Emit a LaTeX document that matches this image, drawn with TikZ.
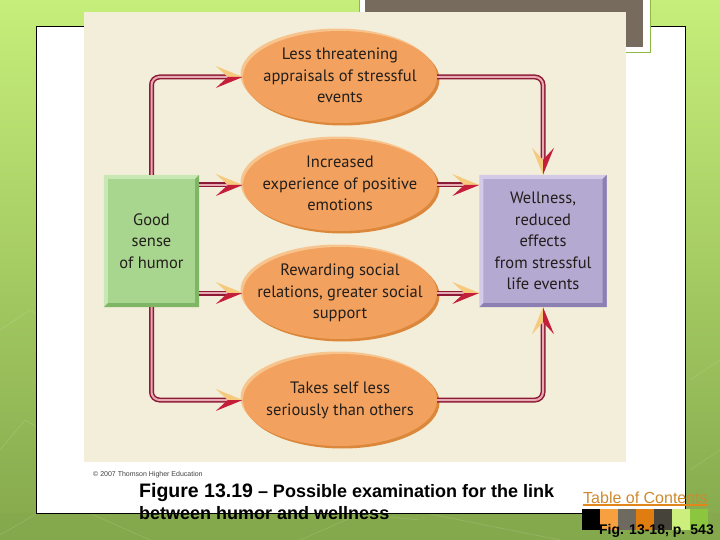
\documentclass[tikz,border=0pt]{standalone}
\usepackage{fontspec}
\setmainfont{Liberation Sans}
\newfontfamily\figfont{PT Sans}
\usetikzlibrary{shapes.geometric}
\definecolor{bgtop}{HTML}{C6EE7A}
\definecolor{bgmid}{HTML}{A8D25E}
\definecolor{bgbot}{HTML}{84A84C}
\definecolor{creme}{HTML}{F3EED9}
\definecolor{slate}{HTML}{766B5D}
\definecolor{framegreen}{HTML}{8DBA45}
\definecolor{bubblefill}{HTML}{F2A25E}
\definecolor{bubblelight}{HTML}{F8C48E}
\definecolor{bubbledark}{HTML}{DC883C}
\definecolor{humorgreen}{HTML}{A9D68F}
\definecolor{humorlight}{HTML}{C8E7B4}
\definecolor{humordark}{HTML}{7EB666}
\definecolor{wellpurple}{HTML}{B4A9D0}
\definecolor{welllight}{HTML}{D2CAE6}
\definecolor{welldark}{HTML}{8C80B2}
\definecolor{pipered}{HTML}{8E1B36}
\definecolor{pipepink}{HTML}{E7A9B2}
\definecolor{tipred}{HTML}{C41E3A}
\definecolor{tipyellow}{HTML}{F6C97C}
\definecolor{ink}{HTML}{231E1C}
\definecolor{tocorange}{HTML}{CF8A30}
\definecolor{tocline}{HTML}{E0861A}
\definecolor{swA}{HTML}{F7A040}
\definecolor{swB}{HTML}{6F6A60}
\definecolor{swC}{HTML}{E07D10}
\definecolor{swD}{HTML}{45433A}
\definecolor{swE}{HTML}{CBEE7C}
\definecolor{swF}{HTML}{8CC63F}
\def\rim{2.5}
\def\bev{4}
\newcommand{\stack}[1]{\makebox[0pt]{\begin{tabular}{@{}c@{}}#1\end{tabular}}}
\newcommand{\bubble}[4]{% name, x, y, text
  \fill[bubblelight] (#2-\rim,#3-\rim) ellipse[x radius=97,y radius=46];
  \fill[bubbledark] (#2+\rim,#3+\rim) ellipse[x radius=97,y radius=46];
  \node[bubble] (#1) at (#2,#3) {\stack{#4}};}
\newcommand{\bevel}[3]{% name, light, dark
  \fill[#2] (#1.south west) -- (#1.north west) -- (#1.north east) -- ([shift={(-\bev,\bev)}]#1.north east)
    -- ([shift={(\bev,\bev)}]#1.north west) -- ([shift={(\bev,-\bev)}]#1.south west) -- cycle;
  \fill[#3] (#1.north east) -- (#1.south east) -- (#1.south west) -- ([shift={(\bev,-\bev)}]#1.south west)
    -- ([shift={(-\bev,-\bev)}]#1.south east) -- ([shift={(-\bev,\bev)}]#1.north east) -- cycle;}
\tikzset{
  tip right/.pic={\fill[tipyellow] (0,0) -- (-27,-11) -- (-15,0) -- cycle;
    \fill[tipred] (0,0) -- (-15,0) -- (-27,11) -- cycle;},
  tip down/.pic={\fill[tipyellow] (0,0) -- (-11,-27) -- (0,-15) -- cycle;
    \fill[tipred] (0,0) -- (0,-15) -- (11,-27) -- cycle;},
  tip up/.pic={\fill[tipyellow] (0,0) -- (-11,27) -- (0,15) -- cycle;
    \fill[tipred] (0,0) -- (0,15) -- (11,27) -- cycle;},
}

\begin{document}
\begin{tikzpicture}[x=1pt,y=-1pt,
  bubble/.style={ellipse,fill=bubblefill,minimum width=194,minimum height=92,inner sep=0pt,
    text=ink,font=\figfont\fontsize{16.5}{21.5}\selectfont},
  slab/.style={rectangle,minimum height=132,inner sep=0pt,align=center,
    text=ink,font=\figfont\fontsize{16.5}{21.5}\selectfont},
  pipe/.style={draw=pipered,double=pipepink,line width=1.5pt,double distance=2pt,
    rounded corners=8pt,shorten >=14pt},
  caption/.style={anchor=base west,inner sep=0pt,font=\bfseries\fontsize{18}{20}\selectfont}]
\useasboundingbox (0,0) rectangle (720,540);
% slide background
\shade[top color=bgtop,middle color=bgmid,bottom color=bgbot] (0,0) rectangle (720,540);
\fill[bgbot,opacity=.5] (0,513) rectangle (720,540);
\draw[white,opacity=.2] (0,330) -- (30,310) -- (60,330) (0,450) -- (25,420) -- (60,440)
  (0,535) -- (60,500) -- (150,540) (300,540) -- (360,514) -- (420,520) (430,514) -- (560,540)
  (690,380) -- (720,360) (690,470) -- (720,450);
\fill[white] (36,26) rectangle (685,513);
\draw[black,line width=.8pt] (36,26) rectangle (685,513);
\fill[white,draw=framegreen,line width=1pt] (359,-2) rectangle (650,53);
\fill[slate] (365,-2) rectangle (643,47);
% figure
\fill[creme] (84,12) rectangle (626,462);
\node[slab,fill=humorgreen,minimum width=95] (humor) at (151.5,241) {Good\\sense\\of humor};
\bevel{humor}{humorlight}{humordark}
\node[slab,fill=wellpurple,minimum width=127] (well) at (543,241) {Wellness,\\reduced\\effects\\from stressful\\life events};
\bevel{well}{welllight}{welldark}
\bubble{e1}{340}{77}{Less threatening\\appraisals of stressful\\events}
\bubble{e2}{340}{185}{Increased\\experience of positive\\emotions}
\bubble{e3}{340}{293}{Rewarding social\\relations, greater social\\support}
\bubble{e4}{340}{400}{Takes self less\\seriously than others}
\draw[pipe] (humor.north) |- (e1.west);
\draw[pipe] (humor.east |- e2.west) -- (e2.west);
\draw[pipe] (humor.east |- e3.west) -- (e3.west);
\draw[pipe] (humor.south) |- (e4.west);
\draw[pipe] (e1.east) -| (well.north);
\draw[pipe] (e2.east) -- (well.west |- e2.east);
\draw[pipe] (e3.east) -- (well.west |- e3.east);
\draw[pipe] (e4.east) -| (well.south);
\pic at (e1.west) {tip right};
\pic at (e2.west) {tip right};
\pic at (e3.west) {tip right};
\pic at (e4.west) {tip right};
\pic at (well.north) {tip down};
\pic at (well.west |- e2.east) {tip right};
\pic at (well.west |- e3.east) {tip right};
\pic at (well.south) {tip up};
% captions
\node[anchor=base west,inner sep=0pt,text=black!75,font=\fontsize{7}{8}\selectfont] (credit) at (93,476) {\textcopyright{} 2007 Thomson Higher Education};
\node[caption] (cap1) at (139,497) {{\fontsize{19.5}{22}\selectfont Figure 13.19} – Possible examination for the link};
\node[caption] (cap2) at (139,519) {between humor and wellness};
\node[anchor=base west,inner sep=0pt,text=tocorange,font=\fontsize{16}{18}\selectfont] (toc) at (583,503) {Table of Contents};
\draw[tocline,line width=1.8pt] ([yshift=-2pt]toc.base west) -- ([yshift=-2pt]toc.base east);
\foreach \c [count=\i from 0] in {black,swA,swB,swC,swD,swE,swF}
  \fill[\c] (582+18*\i,509) rectangle ++(18,21);
\node[anchor=base east,inner sep=0pt,font=\bfseries\fontsize{14}{16}\selectfont] (fig) at (714,534) {Fig. 13-18, p. 543};
\end{tikzpicture}
\end{document}
